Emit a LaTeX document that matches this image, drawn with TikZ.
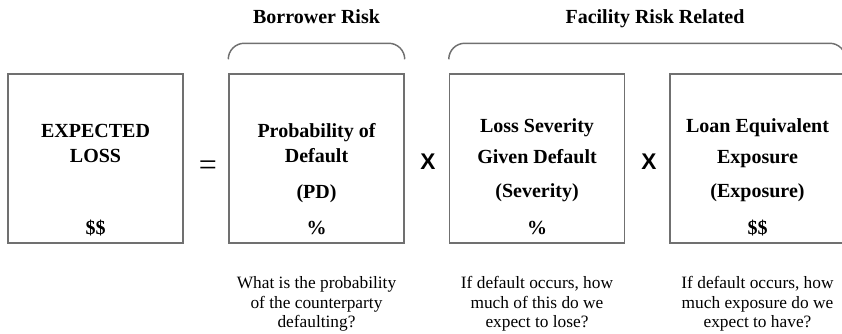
\documentclass[tikz,border=0pt]{standalone}
\usepackage{fontspec}
\setmainfont{Liberation Serif}
\newfontfamily\timesfont{Liberation Sans}
\definecolor{boxgray}{HTML}{707070}

\begin{document}
\begin{tikzpicture}[x=0.75pt,y=-0.75pt,
  termbox/.style={draw=boxgray,line width=1.1pt,minimum width=131.25pt,minimum height=126.75pt,inner sep=0pt},
  term/.style={font=\fontsize{15}{18}\selectfont\bfseries,anchor=base,inner sep=0pt},
  note/.style={font=\fontsize{13}{14.8}\selectfont,align=center,anchor=north,inner sep=0pt},
  brace/.style={draw=boxgray,line width=1.1pt,rounded corners=12pt},
  op/.style={font=\timesfont\fontsize{17}{20}\selectfont\bfseries,anchor=base,inner sep=0pt}]
\useasboundingbox (0,0) rectangle (842,333);
% the four boxes
\node[termbox] (el) at (95.5,158.5) {};
\node[termbox] (pd) at (316.5,158.5) {};
\node[termbox] (lgd) at (537,158.5) {};
\node[termbox] (ead) at (757.5,158.5) {};
% braces and titles
\draw[brace] ([yshift=10.5pt]pd.north west) -- ([yshift=22.5pt]pd.north west) -- ([yshift=22.5pt]pd.north east) -- ([yshift=10.5pt]pd.north east);
\draw[brace] ([yshift=10.5pt]lgd.north west) -- ([yshift=22.5pt]lgd.north west) -- ([yshift=22.5pt]ead.north east) -- ([yshift=10.5pt]ead.north east);
\node[term] (borrower) at (316.5,23) {Borrower Risk};
\node[term] (facility) at (655,23) {Facility Risk Related};
% expected loss
\node[term] (el1) at (95.5,137) {EXPECTED};
\node[term] (el2) at (95.5,162) {LOSS};
\node[term] (el3) at (95.5,234) {\$\$};
% probability of default
\node[term] (pd1) at (316.5,137) {Probability of};
\node[term] (pd2) at (316.5,162) {Default};
\node[term] (pd3) at (316.5,198) {(PD)};
\node[term] (pd4) at (316.5,234) {\%};
% severity
\node[term] (lgd1) at (537,132) {Loss Severity};
\node[term] (lgd2) at (537,163) {Given Default};
\node[term] (lgd3) at (537,197) {(Severity)};
\node[term] (lgd4) at (537,234) {\%};
% exposure
\node[term] (ead1) at (757.5,132) {Loan Equivalent};
\node[term] (ead2) at (757.5,163) {Exposure};
\node[term] (ead3) at (757.5,197) {(Exposure)};
\node[term] (ead4) at (757.5,234) {\$\$};
% operators
\node[font=\fontsize{24}{24}\selectfont,inner sep=0pt] (eq) at (208,168) {=};
\node[op] (times1) at (428,169) {X};
\node[op] (times2) at (649,169) {X};
% questions
\node[note] (q1) at (316.5,276) {What is the probability\\of the counterparty\\defaulting?};
\node[note] (q2) at (537,276) {If default occurs, how\\much of this do we\\expect to lose?};
\node[note] (q3) at (757.5,276) {If default occurs, how\\much exposure do we\\expect to have?};
\end{tikzpicture}
\end{document}
